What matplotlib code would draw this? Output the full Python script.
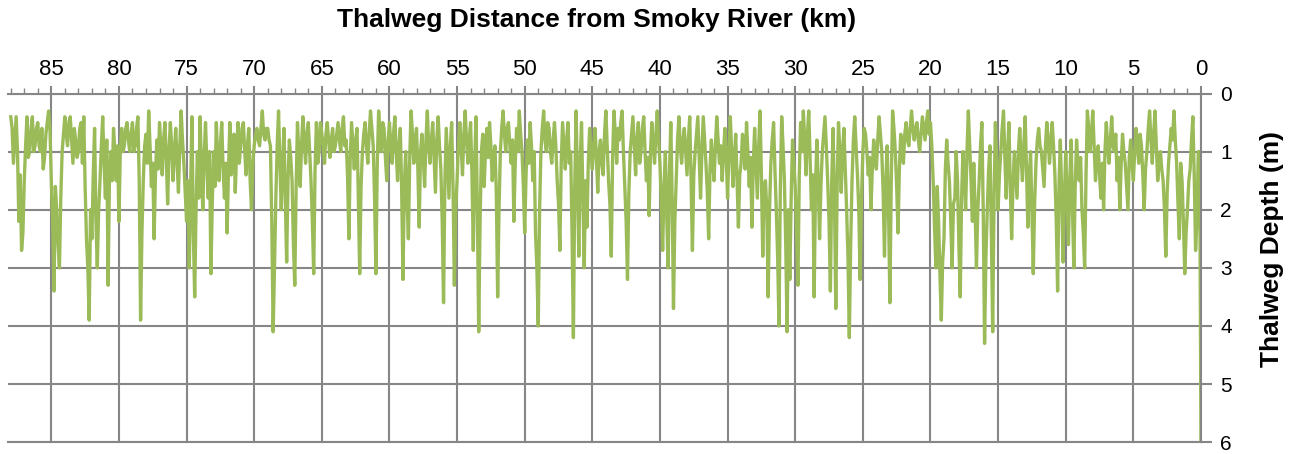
import matplotlib.pyplot as plt
import numpy as np

plt.rcParams['font.family'] = ['Liberation Sans', 'DejaVu Sans']

# thalweg survey, one reading every 0.1 km, from 88 km down to the Smoky River (0 km)
distance_km = np.round(np.arange(88.0, -0.01, -0.1), 1)

depth_m = [
    0.4, 0.6, 1.2, 0.8, 0.4, 1.0, 2.2, 1.4, 2.7, 2.4,   # 88
    1.5, 0.9, 0.4, 1.1, 1.0, 0.6, 0.4, 1.0, 0.9, 0.6,   # 87
    0.5, 0.9, 1.0, 0.6, 1.3, 1.1, 0.7, 0.5, 0.3, 0.6,   # 86
    1.5, 2.2, 3.4, 1.6, 2.0, 2.6, 3.0, 1.8, 1.0, 0.7,   # 85
    0.4, 0.7, 0.9, 0.5, 0.4, 0.8, 1.2, 0.6, 0.8, 1.1,   # 84
    1.0, 0.6, 0.5, 1.2, 0.4, 1.6, 2.5, 3.0, 3.9, 2.0,   # 83
    2.5, 1.4, 0.6, 2.2, 3.0, 2.0, 1.5, 0.9, 0.4, 1.2,   # 82
    1.8, 0.8, 3.3, 1.4, 1.0, 1.5, 0.6, 1.0, 1.5, 0.9,   # 81
    2.2, 1.0, 0.6, 1.0, 0.9, 0.6, 0.5, 0.8, 1.0, 0.7,   # 80
    0.5, 1.0, 0.9, 0.6, 0.4, 1.5, 3.9, 2.4, 1.5, 0.9,   # 79
    0.7, 1.2, 0.3, 0.9, 1.6, 1.2, 2.5, 1.4, 0.8, 1.3,   # 78
    0.5, 0.9, 1.4, 0.8, 0.5, 1.1, 1.9, 1.0, 0.5, 0.9,   # 77
    1.5, 1.0, 0.6, 1.2, 1.7, 0.9, 0.3, 0.8, 1.2, 1.7,   # 76
    2.2, 1.5, 3.0, 1.6, 0.4, 2.4, 3.5, 2.0, 1.0, 1.8,   # 75
    0.4, 1.3, 2.0, 1.1, 0.5, 1.2, 1.8, 1.0, 3.1, 1.9,   # 74
    1.0, 1.6, 0.5, 1.1, 1.5, 0.9, 0.5, 1.3, 1.8, 1.2,   # 73
    2.4, 1.3, 0.5, 1.4, 1.0, 0.7, 1.7, 1.0, 0.5, 1.2,   # 72
    0.9, 0.6, 0.5, 1.0, 1.4, 0.9, 0.6, 1.5, 2.0, 1.2,   # 71
    0.9, 0.7, 0.6, 0.8, 0.9, 0.6, 0.3, 0.7, 0.8, 0.6,   # 70
    0.6, 0.8, 0.9, 2.2, 4.1, 3.0, 1.8, 0.9, 0.3, 1.2,   # 69
    2.0, 1.2, 0.6, 1.8, 2.9, 1.5, 0.8, 1.1, 1.5, 2.6,   # 68
    3.3, 1.6, 0.5, 1.0, 1.6, 0.9, 0.4, 0.8, 1.2, 0.7,   # 67
    0.5, 1.0, 1.5, 2.2, 3.1, 1.3, 0.5, 1.2, 1.0, 0.5,   # 66
    0.7, 0.9, 1.2, 0.7, 0.5, 0.8, 1.1, 0.8, 0.6, 1.0,   # 65
    0.9, 0.7, 0.5, 0.8, 1.0, 0.6, 0.4, 0.9, 0.8, 1.4,   # 64
    2.5, 1.1, 0.5, 0.9, 1.3, 0.8, 0.6, 1.8, 3.1, 1.6,   # 63
    1.0, 0.7, 0.5, 0.9, 1.2, 0.7, 0.3, 0.6, 0.9, 1.8,   # 62
    3.1, 1.2, 0.3, 0.7, 1.0, 0.5, 0.6, 1.1, 1.5, 0.8,   # 61
    0.5, 0.9, 1.2, 0.7, 0.4, 1.0, 1.5, 0.9, 0.6, 1.6,   # 60
    3.2, 1.6, 1.0, 1.8, 2.5, 1.1, 0.3, 0.7, 1.2, 0.8,   # 59
    0.6, 1.3, 2.3, 1.0, 0.7, 1.1, 1.6, 0.8, 0.3, 0.9,   # 58
    1.2, 0.8, 0.5, 1.1, 1.7, 0.8, 0.4, 0.9, 1.3, 2.2,   # 57
    3.6, 1.5, 0.6, 1.2, 1.8, 0.9, 0.5, 1.6, 3.3, 2.0,   # 56
    1.5, 0.9, 0.5, 0.9, 1.4, 0.7, 0.3, 0.8, 1.2, 0.8,   # 55
    0.5, 1.4, 2.7, 1.2, 0.4, 2.0, 4.1, 2.2, 1.0, 0.7,   # 54
    1.6, 1.0, 0.6, 1.1, 0.5, 0.9, 1.5, 1.1, 0.9, 1.7,   # 53
    3.5, 2.0, 1.0, 0.6, 0.3, 0.7, 1.0, 0.6, 0.5, 0.9,   # 52
    1.2, 0.8, 2.2, 1.2, 0.6, 1.0, 0.3, 0.7, 1.0, 1.6,   # 51
    2.4, 1.4, 0.8, 1.2, 0.5, 0.9, 1.5, 1.0, 2.4, 3.0,   # 50
    4.0, 2.0, 1.0, 0.6, 0.3, 0.8, 1.0, 0.5, 0.6, 1.0,   # 49
    1.2, 0.8, 0.5, 0.9, 1.5, 1.9, 2.7, 1.2, 0.5, 0.9,   # 48
    1.3, 0.8, 0.5, 1.2, 1.0, 2.4, 4.2, 1.6, 0.3, 1.5,   # 47
    2.8, 1.2, 0.5, 1.8, 3.0, 1.5, 2.3, 1.2, 0.6, 1.0,   # 46
    1.3, 0.9, 0.6, 1.1, 1.7, 1.0, 0.8, 1.2, 1.4, 0.7,   # 45
    0.3, 0.9, 1.5, 1.9, 2.8, 1.1, 0.3, 0.7, 1.2, 0.6,   # 44
    0.8, 0.5, 0.3, 1.0, 1.6, 2.2, 3.2, 1.7, 1.0, 0.7,   # 43
    0.4, 0.9, 1.4, 0.8, 0.5, 1.2, 1.0, 0.6, 0.4, 1.0,   # 42
    1.5, 1.1, 2.1, 1.0, 0.5, 0.9, 1.2, 0.7, 0.3, 0.8,   # 41
    1.2, 1.9, 2.7, 1.6, 1.0, 2.1, 3.0, 1.4, 0.5, 1.8,   # 40
    3.7, 2.2, 1.5, 0.8, 0.4, 0.9, 1.2, 0.8, 0.6, 1.0,   # 39
    1.4, 0.8, 0.4, 1.5, 2.7, 1.4, 1.0, 0.7, 0.4, 1.1,   # 38
    1.8, 1.0, 0.4, 0.8, 1.2, 1.7, 2.5, 1.3, 0.8, 1.2,   # 37
    1.5, 0.9, 0.4, 0.8, 1.2, 0.9, 1.5, 1.0, 0.6, 1.1,   # 36
    1.8, 1.0, 0.4, 1.0, 1.6, 1.1, 0.7, 1.5, 2.3, 1.4,   # 35
    1.2, 0.7, 0.8, 1.3, 0.5, 1.0, 1.6, 1.1, 2.3, 1.2,   # 34
    0.6, 1.2, 1.8, 0.9, 0.3, 1.4, 2.8, 1.6, 1.5, 2.0,   # 33
    3.5, 2.0, 1.2, 0.8, 0.5, 1.3, 2.0, 2.8, 4.0, 1.6,   # 32
    0.4, 0.9, 1.5, 2.6, 4.1, 2.0, 3.2, 1.8, 0.8, 1.2,   # 31
    1.6, 2.4, 3.3, 1.4, 0.5, 1.0, 0.3, 0.8, 1.4, 0.7,   # 30
    0.3, 1.1, 2.0, 1.4, 3.5, 1.6, 0.8, 1.5, 2.5, 1.6,   # 29
    1.0, 0.7, 0.4, 0.9, 1.5, 2.2, 3.4, 1.5, 0.6, 1.8,   # 28
    3.7, 1.6, 0.5, 1.0, 1.7, 1.0, 0.6, 1.3, 2.0, 2.8,   # 27
    4.2, 2.6, 1.5, 0.8, 0.4, 0.9, 1.4, 2.0, 3.2, 1.8,   # 26
    1.0, 0.6, 0.7, 1.0, 1.4, 1.1, 2.0, 1.3, 0.8, 1.1,   # 25
    1.3, 0.8, 0.4, 0.7, 1.0, 1.7, 2.8, 1.5, 0.9, 2.0,   # 24
    3.6, 1.5, 0.3, 0.6, 1.0, 1.6, 2.4, 1.3, 0.7, 0.9,   # 23
    1.2, 0.7, 0.5, 0.8, 0.9, 0.6, 0.3, 0.6, 0.8, 0.6,   # 22
    0.5, 0.8, 1.0, 0.7, 0.4, 0.6, 0.8, 0.5, 0.3, 0.7,   # 21
    0.5, 0.9, 1.5, 2.3, 3.0, 1.6, 2.2, 3.1, 3.9, 2.9,   # 20
    2.5, 1.3, 0.8, 1.2, 1.5, 2.2, 3.0, 1.9, 1.8, 1.0,   # 19
    1.5, 2.6, 3.5, 1.8, 1.0, 1.4, 2.0, 1.0, 0.3, 0.9,   # 18
    1.5, 2.2, 1.2, 2.0, 3.0, 2.0, 1.5, 0.9, 0.5, 2.0,   # 17
    4.3, 2.8, 2.0, 1.3, 0.9, 2.4, 4.1, 1.8, 0.5, 1.2,   # 16
    2.0, 1.4, 1.0, 0.6, 0.3, 1.1, 1.8, 1.0, 0.5, 1.6,   # 15
    2.5, 1.6, 1.0, 1.4, 1.8, 1.0, 0.6, 1.1, 1.5, 0.9,   # 14
    0.4, 1.3, 2.3, 1.5, 1.0, 2.0, 3.1, 1.9, 1.2, 0.8,   # 13
    0.6, 0.9, 1.0, 1.3, 1.6, 0.9, 0.5, 0.8, 1.2, 0.8,   # 12
    0.5, 0.9, 1.4, 2.2, 3.4, 1.6, 0.8, 1.7, 2.9, 1.8,   # 11
    1.0, 1.8, 2.6, 1.5, 0.8, 2.0, 3.0, 1.6, 0.8, 1.2,   # 10
    1.5, 1.1, 2.0, 2.4, 3.0, 1.4, 0.3, 0.6, 1.0, 0.7,   # 9
    0.3, 0.9, 1.5, 1.1, 0.9, 1.4, 1.8, 1.2, 2.0, 1.0,   # 8
    0.5, 0.9, 1.2, 0.8, 0.4, 0.9, 1.0, 0.7, 1.5, 1.1,   # 7
    2.0, 1.2, 0.7, 1.0, 1.2, 1.6, 2.0, 1.1, 0.8, 1.2,   # 6
    1.5, 1.0, 0.6, 0.9, 1.2, 0.7, 0.9, 1.4, 2.0, 1.3,   # 5
    1.0, 0.6, 0.3, 0.8, 1.2, 0.7, 0.3, 0.9, 1.5, 1.2,   # 4
    1.0, 1.3, 1.5, 2.0, 2.8, 1.7, 1.2, 0.9, 0.6, 0.8,   # 3
    0.3, 0.8, 1.2, 1.9, 2.5, 1.2, 1.5, 2.2, 3.1, 2.4,   # 2
    2.0, 1.5, 1.3, 0.8, 0.4, 1.4, 2.7, 2.2, 1.0, 1.0,   # 1
    6.0,                                                 # 0
]

x_ticks = np.arange(0, 90, 5)
y_ticks = np.arange(0, 7, 1)
grid_gray = '#868686'

fig = plt.figure(figsize=(12.95, 4.54), dpi=100)
ax = fig.add_axes([0.0062, 0.0260, 0.9212, 0.7680])

ax.plot(distance_km, depth_m, color='#9BBB59', lw=2.4)

ax.set_xlim(88.2, 0)
ax.set_ylim(6, 0)
ax.set_xticks(x_ticks)
ax.set_xticks(np.arange(0, 89, 1), minor=True)
ax.set_yticks(y_ticks)
ax.xaxis.tick_top()
ax.yaxis.tick_right()
ax.tick_params(axis='x', which='major', length=6, width=1.5, color=grid_gray,
               labelsize=16, pad=4)
ax.tick_params(axis='x', which='minor', length=4, width=1.0, color=grid_gray)
ax.tick_params(axis='y', which='major', length=8, width=1.5, color=grid_gray,
               labelsize=15, pad=6)
ax.grid(True, which='major', color=grid_gray, lw=1.5)
ax.set_axisbelow(True)
for side in ['top', 'right', 'bottom']:
    ax.spines[side].set_color(grid_gray)
    ax.spines[side].set_linewidth(1.5)
ax.spines['left'].set_visible(False)

fig.text(0.461, 0.955, 'Thalweg Distance from Smoky River (km)', ha='center', va='center',
         fontsize=19, fontweight='bold')
fig.text(0.982, 0.452, 'Thalweg Depth (m)', ha='center', va='center', rotation=90,
         fontsize=19, fontweight='bold')

fig.savefig('out.png', dpi=100)
